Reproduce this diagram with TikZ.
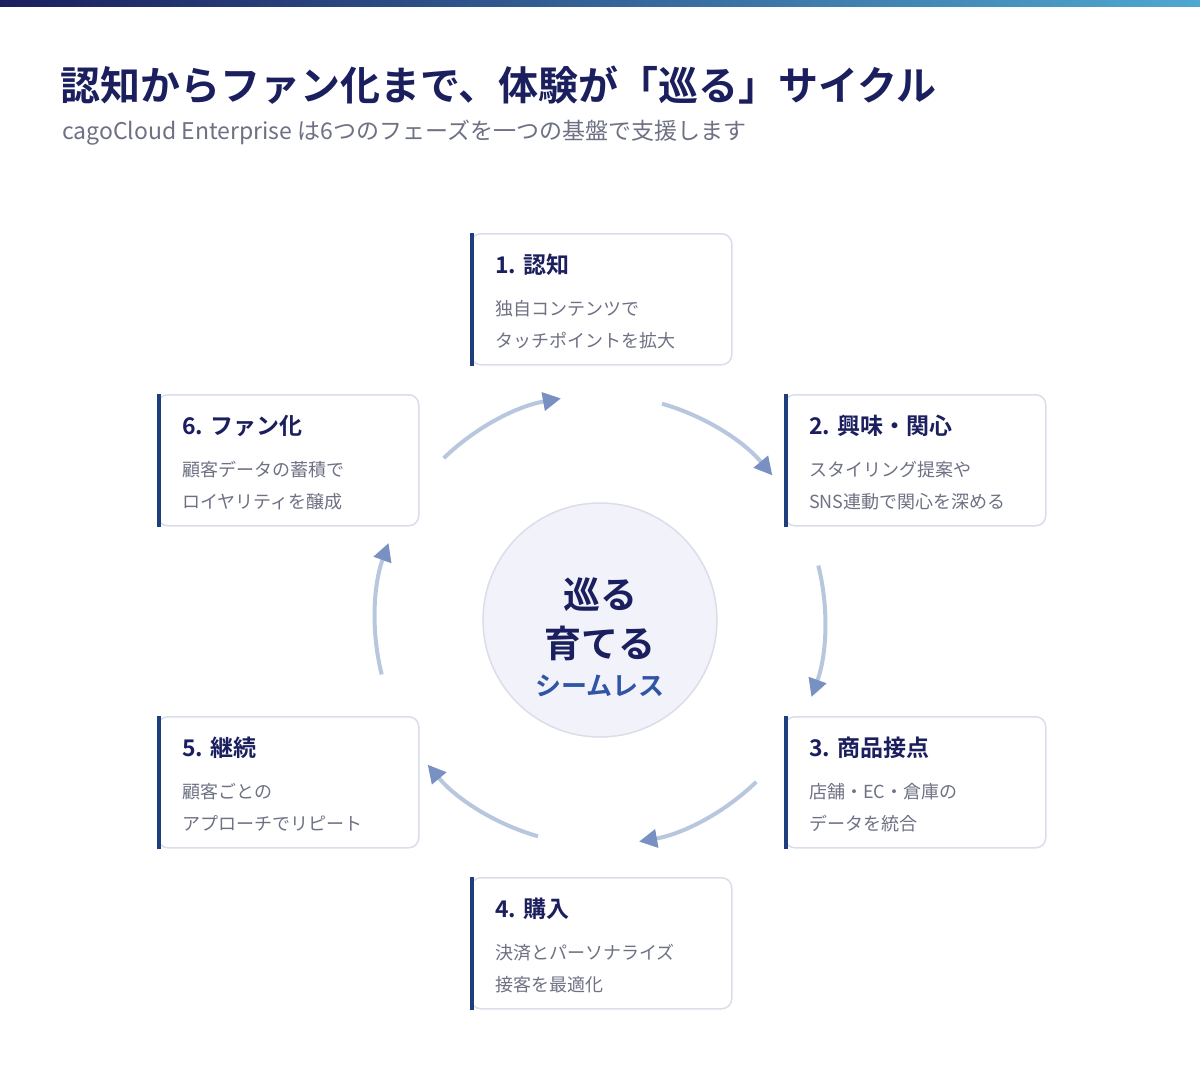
\documentclass[tikz,border=0pt]{standalone}
\usepackage{fontspec}
\setmainfont{Noto Sans CJK JP}[BoldFont=* Bold]
\usetikzlibrary{arrows.meta, positioning, calc}
\definecolor{navy}{HTML}{1B1F5E}
\definecolor{bartop}{HTML}{4FA8D0}
\definecolor{subgray}{HTML}{6E7184}
\definecolor{cardline}{HTML}{D9DEEA}
\definecolor{accent}{HTML}{1E3F7C}
\definecolor{ringc}{HTML}{B8C7DE}
\definecolor{tipc}{HTML}{7891C2}
\definecolor{hubfill}{HTML}{F1F2FA}
\definecolor{hubline}{HTML}{DCDDEA}
\definecolor{seamless}{HTML}{2F55A4}
\tikzset{
  card/.style={draw=cardline, line width=1.5pt, fill=white, rounded corners=10pt,
    minimum width=261pt, minimum height=131pt, anchor=north west, inner sep=0pt},
  cardtitle/.style={anchor=base west, inner sep=0pt, text=navy,
    font=\fontsize{23}{23}\selectfont\bfseries},
  cardtext/.style={anchor=base west, inner sep=0pt, text=subgray,
    font=\fontsize{18}{18}\selectfont},
  ring/.style={draw=ringc, line width=4pt,
    -{Triangle[length=18pt, width=18pt, color=tipc]}},
  hubtext/.style={inner sep=0pt, text=navy, font=\fontsize{37}{37}\selectfont\bfseries}
}
% one phase card with its accent bar and three lines
\newcommand{\phasecard}[6]{%
  \node[card] (#1) at (#2,#3) {};
  \fill[accent] (#1.north west) rectangle ($(#1.south west)+(4,0)$);
  \node[cardtitle] (#1t) at ($(#1.north west)+(25,40)$) {#4};
  \node[cardtext] (#1a) at ($(#1.north west)+(25,82)$) {#5};
  \node[cardtext] (#1b) at ($(#1.north west)+(25,114)$) {#6};
}
\begin{document}
\begin{tikzpicture}[x=1pt, y=-1pt]
  \useasboundingbox (0,0) rectangle (1200,1080);
  \fill[white] (0,0) rectangle (1200,1080);
  \shade[left color=navy, right color=bartop] (0,0) rectangle (1200,6);

  % heading
  \node[anchor=base west, inner sep=0pt, text=navy,
    font=\fontsize{40}{40}\selectfont\bfseries] (title) at (60,100)
    {認知からファン化まで、体験が「巡る」サイクル};
  \node[anchor=base west, inner sep=0pt, text=subgray,
    font=\fontsize{23}{23}\selectfont] (subtitle) at (62,139)
    {cagoCloud Enterprise は6つのフェーズを一つの基盤で支援します};

  % hub
  \coordinate (ctr) at (600,620);
  \node[circle, draw=hubline, line width=1.5pt, fill=hubfill,
    minimum size=234pt] (hub) at (ctr) {};
  \node[hubtext] (hub1) at (600,595) {巡る};
  \node[hubtext] (hub2) at (600,643) {育てる};
  \node[inner sep=0pt, text=seamless, font=\fontsize{26}{26}\selectfont\bfseries]
    (hub3) at (600,686) {シームレス};

  % ring
  \foreach \s in {134,74,14,-46,-106,-166}
    \draw[ring] ($(ctr)+({225*cos(\s)},{-225*sin(\s)})$)
      arc[start angle=-\s, end angle=-\s+34, radius=225];

  % phases
  \phasecard{awareness}{470}{233}{1. 認知}{独自コンテンツで}{タッチポイントを拡大}
  \phasecard{interest}{784}{394}{2. 興味・関心}{スタイリング提案や}{SNS連動で関心を深める}
  \phasecard{contact}{784}{716}{3. 商品接点}{店舗・EC・倉庫の}{データを統合}
  \phasecard{purchase}{470}{877}{4. 購入}{決済とパーソナライズ}{接客を最適化}
  \phasecard{repeat}{157}{716}{5. 継続}{顧客ごとの}{アプローチでリピート}
  \phasecard{fan}{157}{394}{6. ファン化}{顧客データの蓄積で}{ロイヤリティを醸成}
\end{tikzpicture}
\end{document}
